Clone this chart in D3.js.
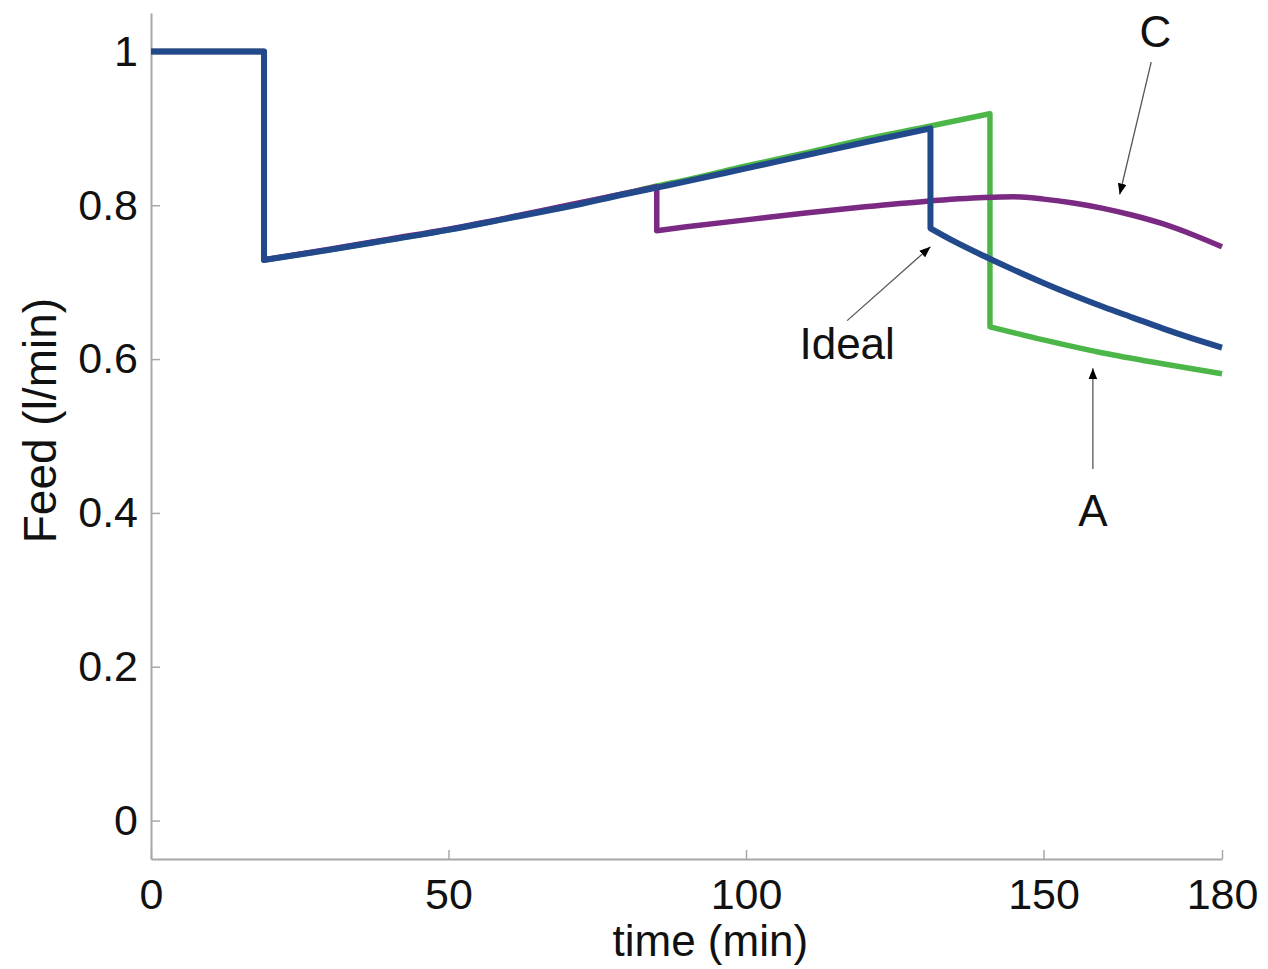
<!DOCTYPE html>
<html>
<head>
<meta charset="utf-8">
<script src="https://cdn.jsdelivr.net/npm/d3@7"></script>
<style>
  body { margin: 0; background: #fff; }
  text { font-family: "Liberation Sans", Arial, sans-serif; fill: #111; }
</style>
</head>
<body>
<svg class="chart"></svg>
<script>
// data
var idealT = [0, 19, 19, 30, 40, 50, 60, 70, 80, 85, 90, 100, 110, 120, 131, 131, 135, 140, 145, 150, 155, 160, 165, 170, 175, 180];
var idealV = [1, 1, 0.729, 0.742, 0.755, 0.768, 0.783, 0.798, 0.815, 0.823, 0.831, 0.848, 0.865, 0.882, 0.900, 0.770, 0.753, 0.734, 0.716, 0.699, 0.683, 0.668, 0.654, 0.640, 0.627, 0.615];

var aT = [0, 19, 19, 30, 40, 50, 60, 70, 80, 85, 90, 100, 110, 120, 131, 141, 141, 150, 160, 170, 180];
var aV = [1, 1, 0.729, 0.742, 0.755, 0.768, 0.783, 0.799, 0.816, 0.825, 0.833, 0.851, 0.868, 0.886, 0.903, 0.919, 0.642, 0.625, 0.608, 0.594, 0.581];

var cT = [0, 19, 19, 30, 40, 50, 60, 70, 80, 85, 85, 90, 100, 110, 120, 130, 140, 145, 150, 155, 160, 165, 170, 175, 180];
var cV = [1, 1, 0.729, 0.743, 0.756, 0.769, 0.784, 0.800, 0.816, 0.824, 0.767, 0.772, 0.781, 0.790, 0.798, 0.805, 0.810, 0.811, 0.808, 0.803, 0.796, 0.787, 0.776, 0.762, 0.746];

var xTicks = [0, 50, 100, 150, 180];
var yTicks = [0, 0.2, 0.4, 0.6, 0.8, 1];

// annotations: label, text position, arrow tail, arrow tip (data units)
var notes = [
  {label: "C", tx: 168.8, ty: 1.006, x0: 168.1, y0: 0.986, x1: 162.8, y1: 0.814},
  {label: "Ideal", tx: 117, ty: 0.600, x0: 117, y0: 0.650, x1: 131.0, y1: 0.746},
  {label: "A", tx: 158.3, ty: 0.383, x0: 158.3, y0: 0.457, x1: 158.3, y1: 0.588}
];

function show() {
    'use strict';
    var margin = {top: 13, bottom: 110, right: 46, left: 151},
        width = 1268 - margin.left - margin.right,
        height = 969 - margin.top - margin.bottom;

    var svg = d3.select(".chart")
        .attr("width", width + margin.left + margin.right)
        .attr("height", height + margin.top + margin.bottom)
        .append("g")
        .attr("transform", "translate(" + margin.left + "," + margin.top + ")");

    var x = d3.scaleLinear().domain([0, 180]).range([0, width]);
    var y = d3.scaleLinear().domain([-0.05, 1.05]).range([height, 0]);

    // arrow head
    svg.append("defs").append("marker")
        .attr("id", "head")
        .attr("markerUnits", "userSpaceOnUse")
        .attr("viewBox", "0 0 10 8")
        .attr("refX", 10).attr("refY", 4)
        .attr("markerWidth", 11).attr("markerHeight", 9)
        .attr("orient", "auto")
        .append("path").attr("d", "M0,0L10,4L0,8Z").attr("fill", "#000");

    // axes
    var xAxis = svg.append("g")
        .attr("transform", "translate(0," + height + ")")
        .call(d3.axisBottom(x).tickValues(xTicks).tickSizeInner(-9).tickSizeOuter(0).tickPadding(19)
            .tickFormat(d3.format("d")));
    var yAxis = svg.append("g")
        .call(d3.axisLeft(y).tickValues(yTicks).tickSizeInner(-9).tickSizeOuter(0).tickPadding(13)
            .tickFormat(function(d) { return d === 0 || d === 1 ? d : d3.format(".1f")(d); }));

    [xAxis, yAxis].forEach(function(a) {
        a.select(".domain").attr("stroke", "#a8a8a8").attr("stroke-width", 2);
        a.selectAll(".tick line").attr("stroke", "#a8a8a8").attr("stroke-width", 1.5);
        a.selectAll(".tick text").style("font-size", "43px").attr("fill", "#111");
    });
    xAxis.selectAll(".tick text").attr("dy", "0.71em");

    svg.append("text")
        .attr("x", x(94)).attr("y", height + 97)
        .attr("text-anchor", "middle")
        .style("font-size", "44px")
        .text("time (min)");
    svg.append("text")
        .attr("transform", "translate(" + (56 - margin.left) + "," + (y(0.52)) + ") rotate(-90)")
        .attr("text-anchor", "middle")
        .style("font-size", "46px")
        .text("Feed (l/min)");

    // series: smooth pieces joined by the vertical switches
    var line = d3.line()
        .x(function(d) { return x(d[0]); })
        .y(function(d) { return y(d[1]); })
        .curve(d3.curveMonotoneX);

    function seriesPath(s) {
        var pts = d3.zip(s.t, s.v), pieces = [], cur = [pts[0]];
        for (var i = 1; i < pts.length; i++) {
            if (pts[i][0] === pts[i - 1][0]) { pieces.push(cur); cur = [pts[i]]; }
            else cur.push(pts[i]);
        }
        pieces.push(cur);
        return pieces.map(function(p, k) {
            var d = line(p);
            return k === 0 ? d : "L" + d.slice(1);
        }).join("");
    }

    var series = [
        {t: aT, v: aV, color: "#4cb748", w: 5.5},
        {t: cT, v: cV, color: "#7a2a82", w: 5.5},
        {t: idealT, v: idealV, color: "#22498c", w: 6}
    ];
    svg.append("g").selectAll("path").data(series).enter()
        .append("path")
        .attr("d", seriesPath)
        .attr("fill", "none")
        .attr("stroke", function(s) { return s.color; })
        .attr("stroke-width", function(s) { return s.w; })
        .attr("stroke-linejoin", "round");

    // annotations
    var g = svg.append("g");
    g.selectAll("line").data(notes).enter()
        .append("line")
        .attr("x1", function(d) { return x(d.x0); })
        .attr("y1", function(d) { return y(d.y0); })
        .attr("x2", function(d) { return x(d.x1); })
        .attr("y2", function(d) { return y(d.y1); })
        .attr("stroke", "#555")
        .attr("stroke-width", 1.3)
        .attr("marker-end", "url(#head)");
    g.selectAll("text").data(notes).enter()
        .append("text")
        .attr("x", function(d) { return x(d.tx); })
        .attr("y", function(d) { return y(d.ty); })
        .attr("text-anchor", "middle")
        .style("font-size", "44px")
        .text(function(d) { return d.label; });
}
show();
</script>
</body>
</html>
